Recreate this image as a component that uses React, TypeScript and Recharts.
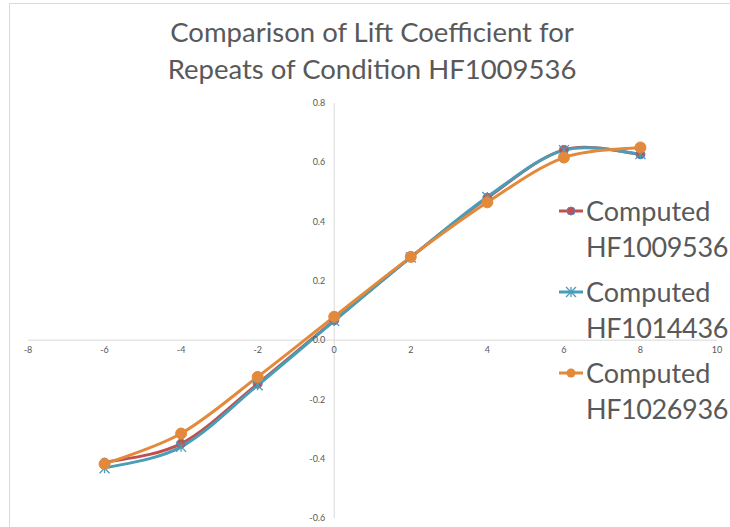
import React from 'react';
import { ComposedChart, Line, XAxis, YAxis, ReferenceLine, ReferenceDot, Legend } from 'recharts';

const angles = [-6, -4, -2, 0, 2, 4, 6, 8];
const hf1009536 = [-0.413, -0.349, -0.147, 0.067, 0.28, 0.48, 0.642, 0.627];
const hf1014436 = [-0.432, -0.36, -0.152, 0.065, 0.279, 0.483, 0.641, 0.628];
const hf1026936 = [-0.418, -0.315, -0.124, 0.079, 0.281, 0.465, 0.616, 0.65];

const xTicks = [-8, -6, -4, -2, 0, 2, 4, 6, 8, 10];
const yTicks = [-0.6, -0.4, -0.2, 0.0, 0.2, 0.4, 0.6, 0.8];

const RED = '#C0504D';
const TEAL = '#4A9DB6';
const ORANGE = '#E3893B';
const FONT = 'Lato, "Open Sans", sans-serif';

const data = angles.map((a, i) => ({
  a,
  s1: hf1009536[i],
  s2: hf1014436[i],
  s3: hf1026936[i],
}));

// Excel-like smoothing (Catmull-Rom through the points)
function smoothCurve(context: any) {
  let pts: number[][] = [];
  return {
    areaStart() {},
    areaEnd() {},
    lineStart() {
      pts = [];
    },
    point(x: number, y: number) {
      pts.push([+x, +y]);
    },
    lineEnd() {
      if (!pts.length) return;
      context.moveTo(pts[0][0], pts[0][1]);
      for (let i = 0; i < pts.length - 1; i++) {
        const p0 = pts[Math.max(i - 1, 0)];
        const p1 = pts[i];
        const p2 = pts[i + 1];
        const p3 = pts[Math.min(i + 2, pts.length - 1)];
        context.bezierCurveTo(
          p1[0] + (p2[0] - p0[0]) / 6,
          p1[1] + (p2[1] - p0[1]) / 6,
          p2[0] - (p3[0] - p1[0]) / 6,
          p2[1] - (p3[1] - p1[1]) / 6,
          p2[0],
          p2[1]
        );
      }
    },
  };
}

const RedDot = (p: any) => (
  <circle key={`r${p.index}`} cx={p.cx} cy={p.cy} r={4.5} fill={RED} stroke="#5B7FC0" strokeWidth={1} />
);
const StarDot = (p: any) => {
  const { cx, cy } = p;
  const s = 5;
  return (
    <g key={`t${p.index}`} stroke={TEAL} strokeWidth={1.3}>
      <line x1={cx} y1={cy - s} x2={cx} y2={cy + s} />
      <line x1={cx - s} y1={cy - s} x2={cx + s} y2={cy + s} />
      <line x1={cx - s} y1={cy + s} x2={cx + s} y2={cy - s} />
    </g>
  );
};
const OrangeDot = (p: any) => (
  <circle key={`o${p.index}`} cx={p.cx} cy={p.cy} r={5.5} fill={ORANGE} stroke={ORANGE} />
);

const legendItems = [
  { name: 'HF1009536', color: RED, kind: 'red' },
  { name: 'HF1014436', color: TEAL, kind: 'star' },
  { name: 'HF1026936', color: ORANGE, kind: 'orange' },
];

function LegendIcon({ kind, color }: { kind: string; color: string }) {
  return (
    <svg width={26} height={14} style={{ display: 'block' }}>
      <line x1={1} y1={7} x2={25} y2={7} stroke={color} strokeWidth={3} />
      {kind === 'red' && <circle cx={13} cy={7} r={4} fill={RED} stroke="#5B7FC0" />}
      {kind === 'orange' && <circle cx={13} cy={7} r={4.5} fill={ORANGE} />}
      {kind === 'star' && (
        <g stroke={TEAL} strokeWidth={1.3}>
          <line x1={13} y1={2} x2={13} y2={12} />
          <line x1={8} y1={2} x2={18} y2={12} />
          <line x1={8} y1={12} x2={18} y2={2} />
        </g>
      )}
    </svg>
  );
}

function LegendBox() {
  return (
    <div style={{ fontFamily: FONT, fontSize: 27, color: '#595959', lineHeight: '36px' }}>
      {legendItems.map((it) => (
        <div key={it.name} style={{ display: 'flex', marginBottom: 9 }}>
          <div style={{ width: 28, paddingTop: 11 }}>
            <LegendIcon kind={it.kind} color={it.color} />
          </div>
          <div>
            <div>Computed</div>
            <div style={{ letterSpacing: -0.4 }}>{it.name}</div>
          </div>
        </div>
      ))}
    </div>
  );
}

export default function App() {
  return (
    <div style={{ position: 'absolute', left: 0, top: 0, width: 730, height: 527, background: '#fff', overflow: 'hidden' }}>
      <div
        style={{
          position: 'absolute',
          left: 9,
          top: 3,
          width: 730,
          height: 530,
          borderLeft: '1px solid #D9D9D9',
          borderTop: '1px solid #D9D9D9',
        }}
      />
      <div
        style={{
          position: 'absolute',
          left: 0,
          top: 13,
          width: 744,
          textAlign: 'center',
          fontFamily: FONT,
          fontSize: 27.5,
          lineHeight: '37px',
          color: '#595959',
        }}
      >
        Comparison of Lift Coefficient for
        <br />
        Repeats of Condition HF1009536
      </div>
      <ComposedChart width={730} height={527} data={data} margin={{ top: 103, right: 13, bottom: 9, left: 28 }}>
        <XAxis dataKey="a" type="number" domain={[-8, 10]} ticks={xTicks} hide />
        <YAxis type="number" domain={[-0.6, 0.8]} ticks={yTicks} hide />
        <ReferenceLine x={0} stroke="#D9D9D9" strokeWidth={1} />
        <ReferenceLine y={0} stroke="#D9D9D9" strokeWidth={1} />
        {xTicks.map((t) => (
          <ReferenceDot
            key={`x${t}`}
            x={t}
            y={0}
            r={0}
            fill="none"
            stroke="none"
            label={{ value: String(t), position: 'bottom', offset: 6, fill: '#595959', fontSize: 9, fontFamily: FONT }}
          />
        ))}
        {yTicks.map((t) => (
          <ReferenceDot
            key={`y${t}`}
            x={0}
            y={t}
            r={0}
            fill="none"
            stroke="none"
            label={{ value: t.toFixed(1), position: 'left', offset: 9, fill: '#595959', fontSize: 9, fontFamily: FONT }}
          />
        ))}
        <Line dataKey="s1" name="Computed HF1009536" type={smoothCurve as any} stroke={RED} strokeWidth={3} dot={RedDot} activeDot={false} isAnimationActive={false} />
        <Line dataKey="s2" name="Computed HF1014436" type={smoothCurve as any} stroke={TEAL} strokeWidth={3} dot={StarDot} activeDot={false} isAnimationActive={false} />
        <Line dataKey="s3" name="Computed HF1026936" type={smoothCurve as any} stroke={ORANGE} strokeWidth={3} dot={OrangeDot} activeDot={false} isAnimationActive={false} />
        <Legend
          layout="horizontal"
          align="center"
          verticalAlign="middle"
          content={() => <LegendBox />}
          wrapperStyle={{ left: 558, top: 193, width: 172 }}
        />
      </ComposedChart>
    </div>
  );
}
